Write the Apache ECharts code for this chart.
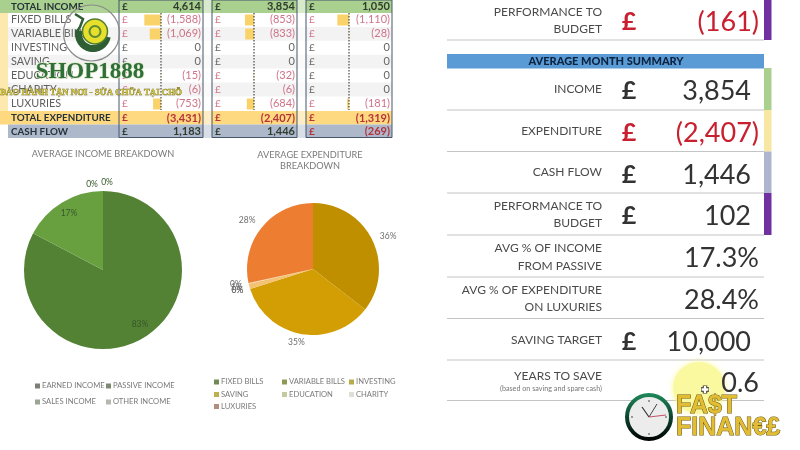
<!DOCTYPE html>
<html><head><meta charset="utf-8">
<style>html,body{margin:0;padding:0;background:#fff}#c{width:800px;height:450px}</style>
<script src="https://cdn.jsdelivr.net/npm/echarts@6/dist/echarts.min.js"></script>
</head><body><div id="c"></div>
<script>
// ---- data ----
const rowLabels = ['TOTAL INCOME','FIXED BILLS','VARIABLE BILLS','INVESTING','SAVING','EDUCATION','CHARITY','LUXURIES','TOTAL EXPENDITURE','CASH FLOW'];
const col1 = [4614,-1588,-1069,0,0,-15,-6,-753,-3431,1183];
const col2 = [3854,-853,-833,0,0,-32,-6,-684,-2407,1446];
const col3 = [1050,-1110,-28,0,0,0,0,-181,-1319,-269];
const expenseNames = ['FIXED BILLS','VARIABLE BILLS','INVESTING','SAVING','EDUCATION','CHARITY','LUXURIES'];
const bars1 = [1588,1069,0,0,15,6,753];
const bars2 = [853,833,0,0,32,6,684];
const bars3 = [1110,28,0,0,0,0,181];
const incomeNames = ['EARNED INCOME','PASSIVE INCOME','SALES INCOME','OTHER INCOME'];
const incomeShare = [82.7,17.3,0,0];
const expenseShare = [35.5,34.6,0,0,1.3,0.2,28.4];
const incomeColors = ['#548235','#68a040','#8fae6d','#a9c48f'];
const expenseColors = ['#bf8f00','#d29e04','#c9a227','#d6b13a','#f4c272','#e8d7b0','#ed7d31'];
const incomeLegendColors = ['#7b7f75','#7c8a72','#9aa596','#b5b8ae'];
const expenseLegendColors = ['#6f8a55','#8d9a55','#b8ab4a','#bfb04f','#c5c9a0','#dedfd6','#b08f7c'];
const summary = [
  ['PERFORMANCE TO\nBUDGET','£','(161)',true],
  ['INCOME','£','3,854',false],
  ['EXPENDITURE','£','(2,407)',true],
  ['CASH FLOW','£','1,446',false],
  ['PERFORMANCE TO\nBUDGET','£','102',false],
  ['AVG % OF INCOME\nFROM PASSIVE','','17.3%',false],
  ['AVG % OF EXPENDITURE\nON LUXURIES','','28.4%',false],
  ['SAVING TARGET','£','10,000',false],
  ['YEARS TO SAVE','','0.6',false]
];
const FONT = 'Lato';

// ---- layout helpers ----
const els = [];
const rect = (x,y,w,h,fill,z,extra) => els.push(Object.assign({type:'rect',shape:{x,y,width:w,height:h},style:{fill},z:z||0,silent:true},extra||{}));
const text = (x,y,t,size,fill,align,opt) => els.push({type:'text',x,y,z:(opt&&opt.z)||5,silent:true,style:Object.assign({text:t,fontSize:size,fontFamily:FONT,fill,align:align||'left',verticalAlign:'middle'},opt&&opt.style||{},opt&&opt.weight?{fontWeight:opt.weight}:{})});
const line = (x1,y1,x2,y2,stroke,w,z,dash) => els.push({type:'line',shape:{x1,y1,x2,y2},z:z||1,silent:true,style:{stroke,lineWidth:w||1,lineDash:dash||null}});
const fmt = v => { const s=Math.abs(v).toLocaleString('en-GB'); return v<0?'('+s+')':s; };

// ---- left table ----
const rowH = 13.9, top0 = 13;
rect(0,0,392,13,'#a9d08e');
rect(0,13,8,111,'#fde9ad');
rect(0,111,392,13.5,'#ffd97f');
rect(8,124.5,384,13.5,'#adb9ca');
[2,4,6].forEach(i=>rect(8,top0+(i-1)*rowH,384,rowH,'#f3f3f3'));
[[203,212],[297,306]].forEach(g=>rect(g[0],0,g[1]-g[0],138,'rgba(255,255,255,0.55)',1));
const colX = [[119,203],[212,297],[306,392]];
const dash = [161,254,349];
const rowY = i => i===0?6.5:(i===9?131.5:(i===8?118:top0+(i-0.5)*rowH));
[col1,col2,col3].forEach((col,c)=>{
  const [l,r]=colX[c];
  els.push({type:'rect',shape:{x:l,y:0,width:r-l,height:137.5},z:3,silent:true,style:{fill:'none',stroke:'#44546a',lineWidth:1}});
  line(dash[c],13,dash[c],110,'#222',1,4,[1.5,1.5]);
  col.forEach((v,i)=>{
    const y = rowY(i);
    const bold = i===0||i>=8;
    const red = v<0;
    const col_ = red?(bold?'#b5323c':'#cf7488'):(bold?'#2f3b2f':'#666');
    text(l+3,y,'£',10,col_,'left',{weight:bold?'bold':'normal'});
    text(r-2,y,fmt(v),11,col_,'right',{weight:bold?'bold':'normal'});
  });
});
rowLabels.forEach((n,i)=>{
  const bold = i===0||i>=8;
  text(11,rowY(i),n,bold?9.8:10.8,bold?'#26323a':'#5f5f5f','left',{weight:bold?'bold':'normal'});
});

// ---- right summary ----
rect(447,54,317,14.5,'#5b9bd5');
text(606,61.5,'AVERAGE MONTH SUMMARY',11,'#0c2340','center',{weight:'900'});
const sideBars = [[0,40,'#7030a0'],[68,42,'#a9d08e'],[110,41.5,'#f7e7a3'],[151.5,41.5,'#aeb5cf'],[193,42,'#7030a0']];
sideBars.forEach(b=>rect(764,b[0],7.5,b[1],b[2]));
[40,110,151.5,193,235,277,318.5,360,400.5].forEach(y=>line(447,y,764,y,'#c4c4c4',1,1));
const labelY = [20.5,89.5,131,172.5,214.5,257,298.5,340,376];
const valueY = [22,91,133,175,216,258,300,342,383];
const valueRight = [759,751,759,751,751,759,759,751,759];
summary.forEach((r,i)=>{
  const lab = r[0].split('\n');
  if(lab.length===2){
    text(602,labelY[i]-8.7,lab[0],12,'#4a4a4a','right');
    text(602,labelY[i]+8.7,lab[1],12,'#4a4a4a','right');
  } else text(602,labelY[i],lab[0],12,'#4a4a4a','right');
  const c = r[3]?'#c8202f':'#333';
  if(r[1]) text(629,valueY[i],r[1],25,c,'center',{weight:'bold'});
  text(valueRight[i],valueY[i],r[2],27,c,'right',{z:6});
});
text(602,389,'(based on saving and spare cash)',7.2,'#777','right');

// ---- cursor highlight + plus ----
els.push({type:'circle',shape:{cx:699,cy:388,r:26},z:2,silent:true,style:{fill:'#fbf99f',shadowBlur:6,shadowColor:'#fbf99f'}});
[[701,389.5,709,389.5],[705,385.5,705,393.5]].forEach(p=>line(p[0],p[1],p[2],p[3],'#333',4.5,7));
[[701.5,389.5,708.5,389.5],[705,386,705,393]].forEach(p=>line(p[0],p[1],p[2],p[3],'#fff',2.5,8));

// ---- Fast Finance logo ----
els.push({type:'circle',shape:{cx:649,cy:417,r:22},z:20,silent:true,style:{fill:'#ececec',lineWidth:4,stroke:{type:'linear',x:0,y:0,x2:0,y2:1,colorStops:[{offset:0,color:'#1f8a5a'},{offset:0.55,color:'#0c3d2a'},{offset:1,color:'#000'}]}}});
line(649,417,657,404,'#444',1,21); line(649,417,642,407,'#333',1.2,21); line(649,417,666,415,'#c4526a',1,21);
[[649,401],[649,434],[632,417],[666,417]].forEach(p=>els.push({type:'circle',shape:{cx:p[0],cy:p[1],r:0.8},z:21,silent:true,style:{fill:'#333'}}));
const gold = {stroke:'#6b5a10',lineWidth:1,fontFamily:'Liberation Sans',fontWeight:'bold'};
text(676,406,'FA$T',25,'#e2bd34','left',{z:22,style:gold});
text(676,428,'FINAN€£',25,'#e2bd34','left',{z:22,style:gold});

// ---- SHOP1888 watermark ----
els.push({type:'circle',shape:{cx:91.5,cy:33,r:28},z:20,silent:true,style:{fill:'rgba(255,255,255,0.08)',stroke:'#8a8a8a',lineWidth:1.2}});
els.push({type:'sector',shape:{cx:93,cy:34,r:18,r0:11,startAngle:0.2,endAngle:3.4},z:21,silent:true,style:{fill:'#2f5d34'}});
els.push({type:'polyline',shape:{points:[[75,14],[83,19],[80,27],[76,33]]},z:21,silent:true,style:{stroke:'#2f5d34',lineWidth:2.5,fill:'none'}});
els.push({type:'circle',shape:{cx:95,cy:31.5,r:12.5},z:21,silent:true,style:{fill:'#e7df2b',stroke:'#4f7d2f',lineWidth:1.5}});
els.push({type:'circle',shape:{cx:95,cy:31.5,r:5.5},z:22,silent:true,style:{fill:'none',stroke:'#5c8a34',lineWidth:2}});
text(90,72,'SHOP1888',23,'#2e6f3a','center',{z:23,weight:'bold',style:{fontFamily:'Liberation Serif',stroke:'#dfe9c9',lineWidth:1.5}});
text(91,92.5,'BẢO HÀNH TẬN NƠI - SỬA CHỮA TẠI CHỖ',8.8,'#c9c23a','center',{z:23,weight:'bold',style:{fontFamily:'Liberation Serif',stroke:'#6b5a20',lineWidth:0.5}});

// ---- legends ----
const legends = [];
const legItem = (name,color,left,top)=>legends.push({
  data:[{name,itemStyle:{color}}],left,top,selectedMode:false,itemWidth:5,itemHeight:5,itemGap:1,padding:0,icon:'rect',
  textStyle:{color:'#7a7a7a',fontSize:7.6,fontFamily:FONT,padding:[0,0,0,-3]}
});
const incLeg=[[35,382],[106,382],[35,398],[106,398]];
incomeNames.forEach((n,i)=>legItem(n,incomeLegendColors[i],incLeg[i][0],incLeg[i][1]));
const expLeg=[[214,378],[282,378],[349,378],[214,390.5],[282,390.5],[349,390.5],[214,402.5]];
expenseNames.forEach((n,i)=>legItem(n,expenseLegendColors[i],expLeg[i][0],expLeg[i][1]));

// ---- series ----
const pctLabel = p => Math.round(p.value)+'%';
const barSeries = [bars1,bars2,bars3].map((d,i)=>({
  type:'bar',name:'bars'+i,xAxisIndex:i,yAxisIndex:i,data:d,barWidth:11,silent:true,z:2,
  itemStyle:{color:'#fad26a'},legendHoverLink:false
}));
const gridLefts=[131,224,319];
const incomeShift=[{dx:15,dy:18},{dx:-12,dy:-20},{dx:-11,dy:-43},{dx:4,dy:-45}];
const expenseShift=[{dx:4,dy:-2},{dx:4,dy:4},{dx:-3,dy:0},{dx:-3,dy:0},{dx:-3,dy:0},{dx:-3,dy:0},{dx:-3,dy:-5}];
const option = {
  animation:false,
  backgroundColor:'#fff',
  title:[
    {text:'AVERAGE INCOME BREAKDOWN',left:103,top:150,textAlign:'center',padding:0,textStyle:{fontSize:9.2,fontWeight:'normal',color:'#7a7a7a',fontFamily:FONT}},
    {text:'AVERAGE EXPENDITURE\nBREAKDOWN',left:310,top:150,textAlign:'center',padding:0,textStyle:{fontSize:9.2,fontWeight:'normal',color:'#7a7a7a',fontFamily:FONT,lineHeight:11}}
  ],
  legend:legends,
  grid:gridLefts.map(l=>({left:l,width:30,top:13,height:98,containLabel:false})),
  xAxis:gridLefts.map((_,i)=>({type:'value',gridIndex:i,inverse:true,min:0,max:2850,show:false})),
  yAxis:gridLefts.map((_,i)=>({type:'category',gridIndex:i,inverse:true,data:expenseNames,show:false})),
  graphic:{elements:els},
  series:[
    ...barSeries,
    {type:'pie',name:'Income',center:[103,270],radius:79,startAngle:90,clockwise:true,z:3,silent:true,
     avoidLabelOverlap:false,minShowLabelAngle:0,percentPrecision:1,
     data:incomeNames.map((n,i)=>({name:n,value:incomeShare[i],itemStyle:{color:incomeColors[i]}})),
     label:{show:true,position:'inside',formatter:pctLabel,fontSize:8.5,color:'#35572a',fontFamily:FONT},
     labelLine:{show:false},
     labelLayout:p=>incomeShift[p.dataIndex]},
    {type:'pie',name:'Expenditure',center:[313,269],radius:66,startAngle:90,clockwise:true,z:3,silent:true,
     avoidLabelOverlap:false,minShowLabelAngle:0,percentPrecision:1,
     data:expenseNames.map((n,i)=>({name:n,value:expenseShare[i],itemStyle:{color:expenseColors[i]}})),
     label:{show:true,position:'outside',formatter:pctLabel,fontSize:8.5,color:'#6e6e6e',fontFamily:FONT,distanceToLabelLine:0},
     labelLine:{show:false,length:4,length2:0},
     labelLayout:p=>expenseShift[p.dataIndex]}
  ]
};
echarts.init(document.getElementById('c'),null,{renderer:'canvas'}).setOption(option);
</script></body></html>
